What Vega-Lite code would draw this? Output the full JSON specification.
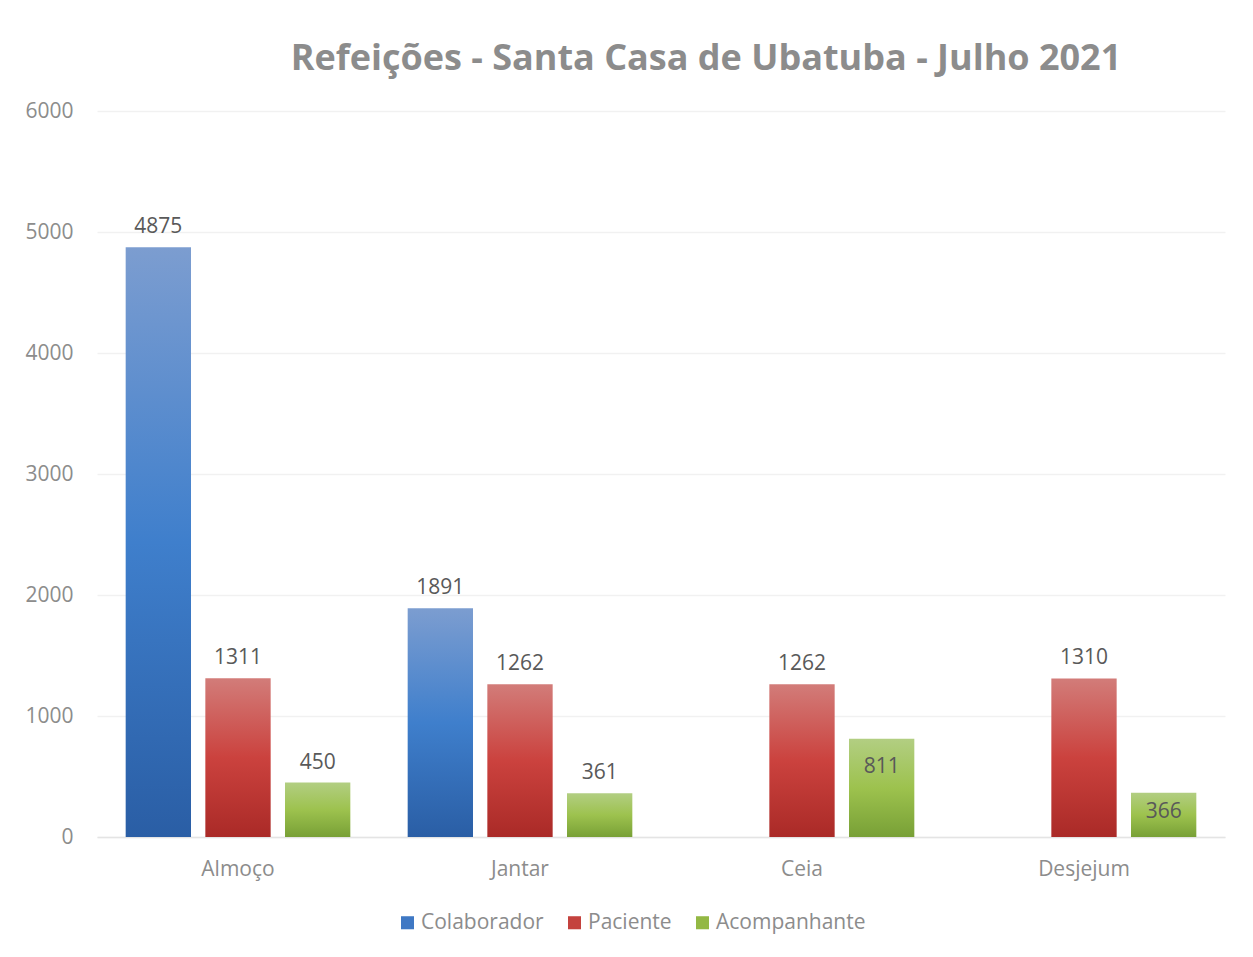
{
  "$schema": "https://vega.github.io/schema/vega-lite/v6.json",
  "autosize": "none",
  "width": 1128,
  "height": 726,
  "padding": {"left": 97, "top": 111, "right": 28, "bottom": 120},
  "background": "white",
  "config": {"view": {"stroke": null}, "font": "Open Sans"},
  "title": {"text": "Refeições - Santa Casa de Ubatuba - Julho 2021", "anchor": "middle", "dx": 45, "offset": 22, "font": "Open Sans", "fontSize": 36, "fontWeight": "bold", "color": "#8c8c8c"},
  "data": {"values": [
    {"Refeicao": "Almoço", "Serie": "Colaborador", "Valor": 4875},
    {"Refeicao": "Almoço", "Serie": "Paciente", "Valor": 1311},
    {"Refeicao": "Almoço", "Serie": "Acompanhante", "Valor": 450},
    {"Refeicao": "Jantar", "Serie": "Colaborador", "Valor": 1891},
    {"Refeicao": "Jantar", "Serie": "Paciente", "Valor": 1262},
    {"Refeicao": "Jantar", "Serie": "Acompanhante", "Valor": 361},
    {"Refeicao": "Ceia", "Serie": "Paciente", "Valor": 1262},
    {"Refeicao": "Ceia", "Serie": "Acompanhante", "Valor": 811},
    {"Refeicao": "Desjejum", "Serie": "Paciente", "Valor": 1310},
    {"Refeicao": "Desjejum", "Serie": "Acompanhante", "Valor": 366}
  ]},
  "encoding": {
    "x": {"field": "Refeicao", "type": "nominal", "sort": ["Almoço", "Jantar", "Ceia", "Desjejum"],
      "scale": {"paddingInner": 0, "paddingOuter": 0},
      "axis": {"title": null, "labelAngle": 0, "ticks": false, "domain": true, "domainColor": "#e4e4e4", "domainWidth": 1.5, "labelFont": "Open Sans", "labelFontSize": 21, "labelColor": "#8c8c8c", "labelPadding": 21}},
    "xOffset": {"field": "Serie", "type": "nominal", "scale": {"domain": ["Colaborador", "Paciente", "Acompanhante"], "paddingInner": 0.18, "paddingOuter": 0.36}},
    "y": {"field": "Valor", "type": "quantitative", "scale": {"domain": [0, 6000]},
      "axis": {"title": null, "values": [0, 1000, 2000, 3000, 4000, 5000, 6000], "format": "d", "domain": false, "ticks": false, "gridColor": "#f1f1f1", "gridWidth": 1.5, "labelFont": "Open Sans", "labelFontSize": 21, "labelColor": "#8c8c8c", "labelPadding": 24}}
  },
  "layer": [
    {
      "mark": {"type": "bar"},
      "encoding": {
        "fill": {
          "condition": [
            {"test": "datum.Serie === 'Colaborador'", "value": {"gradient": "linear", "x1": 0, "y1": 0, "x2": 0, "y2": 1, "stops": [{"offset": 0, "color": "#7c9dd0"}, {"offset": 0.5, "color": "#3f7fcc"}, {"offset": 1, "color": "#2a5ea5"}]}},
            {"test": "datum.Serie === 'Paciente'", "value": {"gradient": "linear", "x1": 0, "y1": 0, "x2": 0, "y2": 1, "stops": [{"offset": 0, "color": "#d27c79"}, {"offset": 0.5, "color": "#cb423e"}, {"offset": 1, "color": "#aa2a27"}]}},
            {"test": "datum.Serie === 'Acompanhante'", "value": {"gradient": "linear", "x1": 0, "y1": 0, "x2": 0, "y2": 1, "stops": [{"offset": 0, "color": "#b2ce82"}, {"offset": 0.5, "color": "#9dc24e"}, {"offset": 1, "color": "#78a036"}]}}
          ],
          "field": "Serie", "type": "nominal",
          "scale": {"domain": ["Colaborador", "Paciente", "Acompanhante"], "range": ["#3f78c4", "#c4423e", "#93b844"]},
          "legend": {"title": null, "orient": "none", "legendX": 300, "legendY": 801, "direction": "horizontal", "symbolType": "square", "symbolSize": 170, "symbolStrokeWidth": 0, "labelFont": "Open Sans", "labelFontSize": 21, "labelColor": "#8c8c8c", "columnPadding": 20, "labelOffset": 3}
        }
      }
    },
    {
      "transform": [{"filter": "datum.Valor != 811 && datum.Valor != 366"}],
      "mark": {"type": "text", "baseline": "bottom", "dy": -10, "font": "Open Sans", "fontSize": 21, "color": "#595959"},
      "encoding": {"text": {"field": "Valor", "type": "quantitative"}}
    },
    {
      "transform": [{"filter": "datum.Refeicao === 'Ceia' && datum.Serie === 'Acompanhante'"}],
      "mark": {"type": "text", "baseline": "middle", "dy": 28, "font": "Open Sans", "fontSize": 21, "color": "#595959"},
      "encoding": {"text": {"field": "Valor", "type": "quantitative"}}
    },
    {
      "transform": [{"filter": "datum.Refeicao === 'Desjejum' && datum.Serie === 'Acompanhante'"}],
      "mark": {"type": "text", "baseline": "middle", "dy": 19, "font": "Open Sans", "fontSize": 21, "color": "#595959"},
      "encoding": {"text": {"field": "Valor", "type": "quantitative"}}
    }
  ]
}
